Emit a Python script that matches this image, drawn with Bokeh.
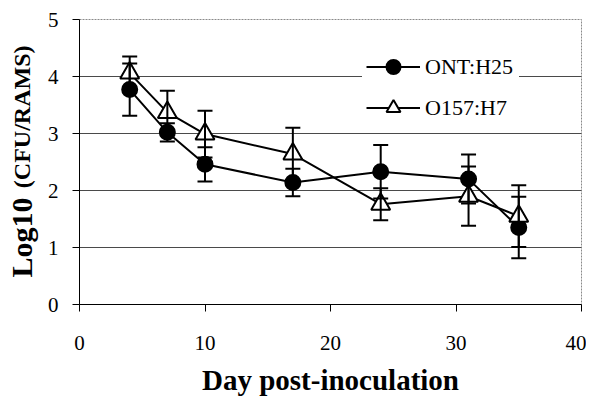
import math
from bokeh.plotting import figure
from bokeh.layouts import row
from bokeh.models import (ColumnDataSource, Whisker, TeeHead, Legend, LegendItem,
                          FixedTicker, Range1d, Label)
from bokeh.embed import file_html
from bokeh.resources import INLINE

days = [4, 7, 10, 17, 24, 31, 35]
ont_mean = [3.77, 3.02, 2.46, 2.14, 2.33, 2.20, 1.35]
ont_err = [0.46, 0.16, 0.30, 0.24, 0.47, 0.43, 0.54]
o157_mean = [4.06, 3.37, 2.99, 2.64, 1.76, 1.90, 1.55]
o157_err = [0.29, 0.38, 0.41, 0.46, 0.28, 0.52, 0.54]
series_names = ["ONT:H25", "O157:H7"]
x_ticks = [0, 10, 20, 30, 40]
y_ticks = [0, 1, 2, 3, 4, 5]
y_title_parts = ["Log10", "(CFU/RAMS)"]
x_title = "Day post-inoculation"

SERIF = "Liberation Serif"
H = 398
TW = 40  # width of the strip holding the y-axis title
FRAME_TOP, FRAME_BOTTOM = 19, 305

# ---- y-axis title strip (mixed font sizes, so drawn as labels) ----
t = figure(width=TW, height=H, output_backend="svg", toolbar_location=None,
           x_range=Range1d(0, TW), y_range=Range1d(0, H),
           x_axis_type=None, y_axis_type=None,
           min_border=0, min_border_left=0, min_border_right=0,
           min_border_top=0, min_border_bottom=0)
t.outline_line_color = None
t.background_fill_color = "white"
t.border_fill_color = "white"
# the strip's frame is aligned with the chart's frame (bottom at y=305)
t.add_layout(Label(x=21, y=FRAME_BOTTOM - 278, x_units="screen", y_units="screen",
                   text=y_title_parts[0], angle=math.pi / 2,
                   text_align="left", text_baseline="alphabetic",
                   text_font=SERIF, text_font_size="30px", text_font_style="bold",
                   text_color="black"))
t.add_layout(Label(x=21, y=FRAME_BOTTOM - 46, x_units="screen", y_units="screen",
                   text=y_title_parts[1], angle=math.pi / 2,
                   text_align="right", text_baseline="alphabetic",
                   text_font=SERIF, text_font_size="24px", text_font_style="bold",
                   text_color="black"))

# ---- main chart ----
p = figure(width=586 - TW, height=H, output_backend="svg", toolbar_location=None,
           x_range=(0, 40), y_range=(0, 5),
           min_border_left=79 - TW, min_border_right=5, min_border_top=FRAME_TOP,
           min_border_bottom=H - FRAME_BOTTOM)
p.background_fill_color = "white"
p.border_fill_color = "white"
p.outline_line_color = "#8a8a8a"
p.outline_line_dash = "2 1"
p.outline_line_width = 1

p.xgrid.grid_line_color = None
p.ygrid.grid_line_color = "#4a4a4a"
p.ygrid.grid_line_width = 1
p.ygrid.ticker = FixedTicker(ticks=[1, 2, 3, 4])

for ax in (p.xaxis[0], p.yaxis[0]):
    ax.axis_line_color = "black"
    ax.axis_line_width = 1
    ax.major_tick_in = 0
    ax.major_tick_out = 7
    ax.major_tick_line_color = "black"
    ax.minor_tick_line_color = None
    ax.major_label_text_font = SERIF
    ax.major_label_text_font_size = "21px"
    ax.major_label_text_color = "black"

p.xaxis.ticker = FixedTicker(ticks=x_ticks)
p.yaxis.ticker = FixedTicker(ticks=y_ticks)
p.xaxis.major_label_standoff = 24
p.yaxis.major_label_standoff = 14
p.xaxis.axis_label = x_title
p.xaxis.axis_label_text_font = SERIF
p.xaxis.axis_label_text_font_size = "29px"
p.xaxis.axis_label_text_font_style = "bold"
p.xaxis.axis_label_text_color = "black"
p.xaxis.axis_label_standoff = 11

def band(mean, err):
    return [m + e for m, e in zip(mean, err)], [m - e for m, e in zip(mean, err)]

ont_up, ont_lo = band(ont_mean, ont_err)
o_up, o_lo = band(o157_mean, o157_err)
src_ont = ColumnDataSource(dict(x=days, y=ont_mean, upper=ont_up, lower=ont_lo))
src_o = ColumnDataSource(dict(x=days, y=o157_mean, upper=o_up, lower=o_lo))

items = []
for src, marker, fill, size, name in ((src_ont, "circle", "black", 15, series_names[0]),
                                      (src_o, "triangle", "white", 19, series_names[1])):
    w = Whisker(source=src, base="x", upper="upper", lower="lower",
                dimension="height", line_width=2, line_color="black",
                upper_head=TeeHead(size=15, line_width=2, line_color="black"),
                lower_head=TeeHead(size=15, line_width=2, line_color="black"),
                level="glyph")
    p.add_layout(w)
    lr = p.line("x", "y", source=src, line_color="black", line_width=2)
    sr = p.scatter("x", "y", source=src, marker=marker, size=size,
                   fill_color=fill, line_color="black", line_width=2)
    items.append(LegendItem(label=name, renderers=[lr, sr]))

legend = Legend(items=items, location=(283, 175), orientation="vertical",
                glyph_width=54, glyph_height=35, label_height=20, label_width=90,
                label_standoff=5, spacing=6, padding=4,
                label_text_font=SERIF, label_text_font_size="22px",
                label_text_color="black", background_fill_color="white",
                background_fill_alpha=1.0, border_line_alpha=0)
p.add_layout(legend, "center")

layout = row(t, p, spacing=0)
open("out.html", "w").write(file_html(layout, INLINE))
